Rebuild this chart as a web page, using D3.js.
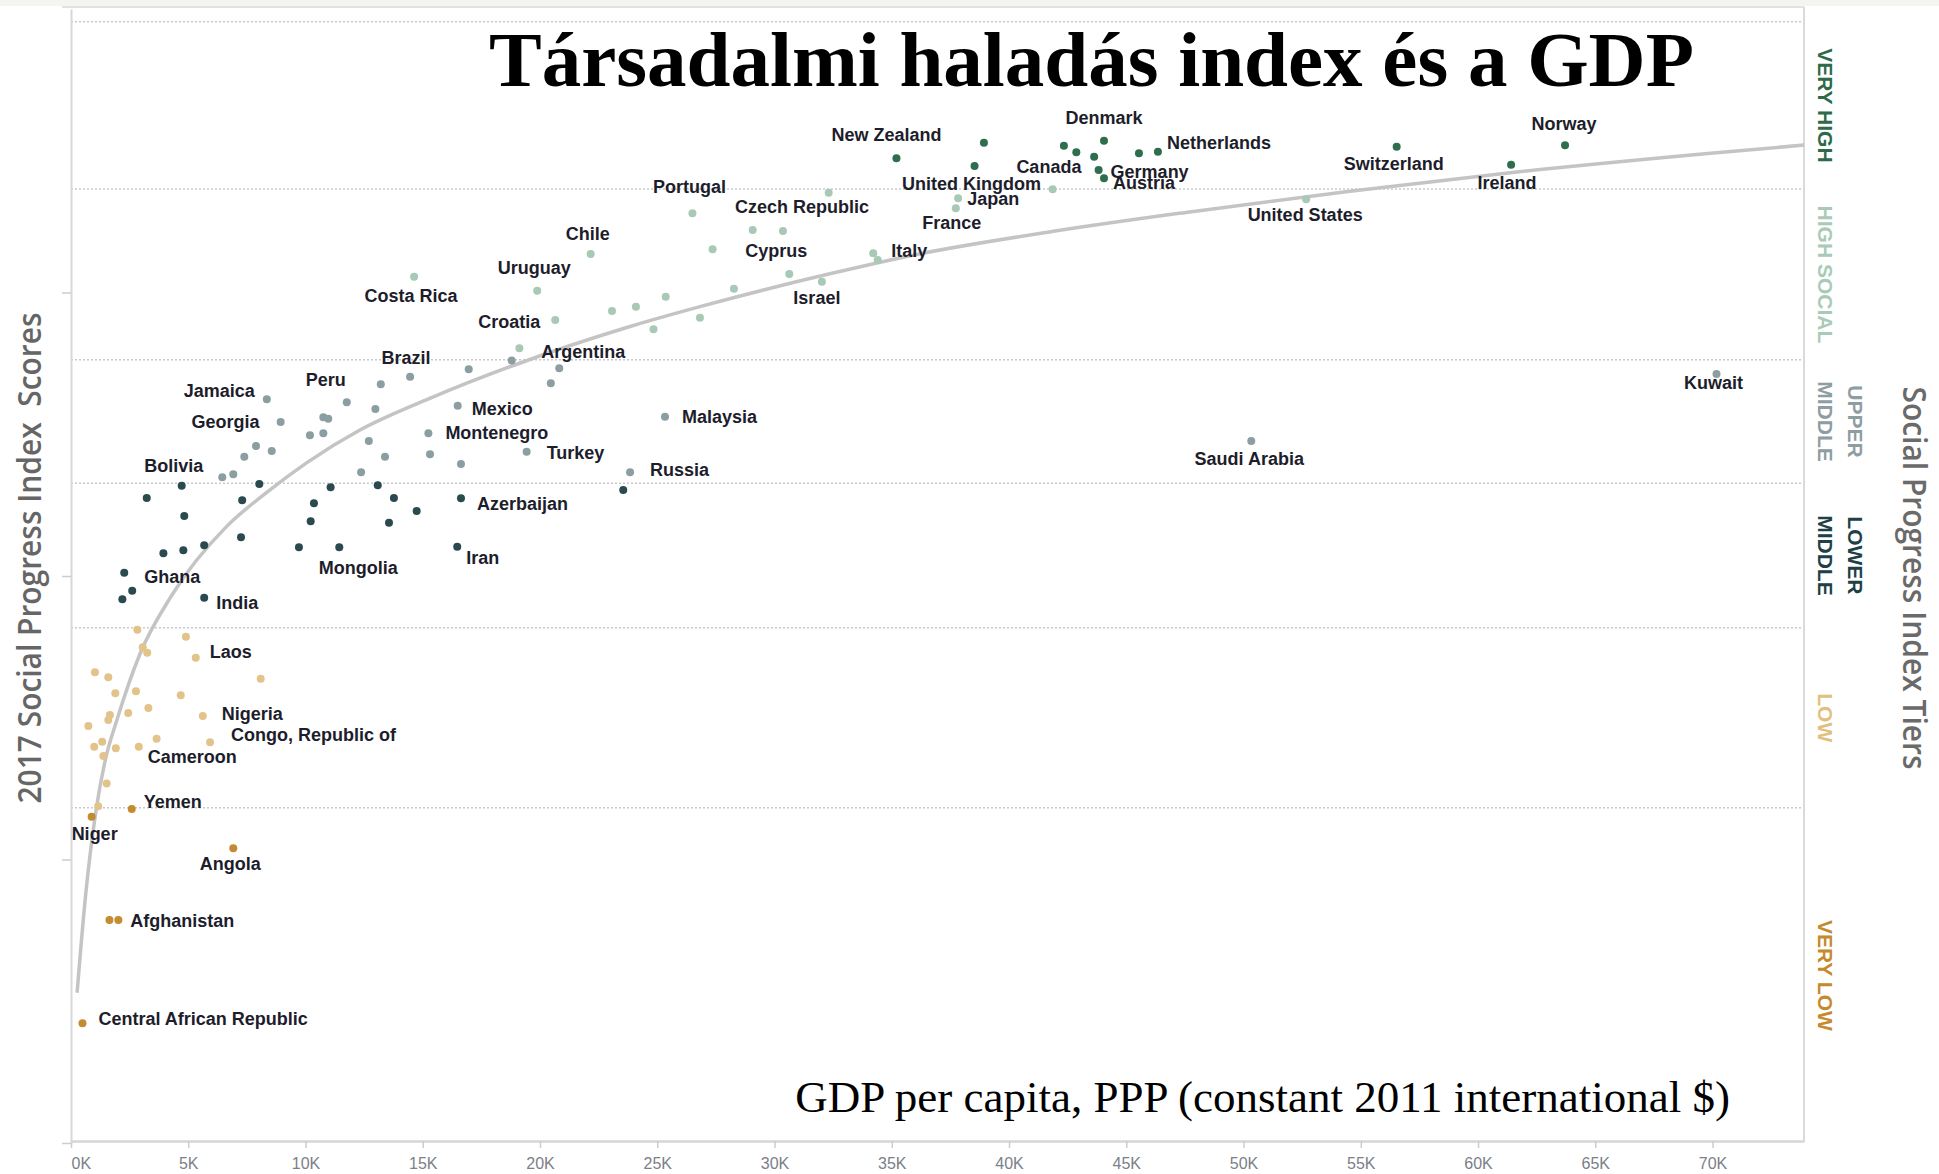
<!DOCTYPE html>
<html>
<head>
<meta charset="utf-8">
<script src="https://cdn.jsdelivr.net/npm/d3@7"></script>
<style>
  html, body { margin: 0; padding: 0; background: #fff; }
  svg { display: block; }
</style>
</head>
<body>
<div id="spi-chart"></div>
<script>
// GDP per capita in thousands of $, SPI score, country label ('' = unlabelled)
var veryHigh = [
  [35.2, 89.47, 'New Zealand'], [38.93, 90.57, ''], [38.53, 88.92, 'United Kingdom'],
  [42.34, 90.36, 'Canada'], [42.87, 89.89, ''], [44.05, 90.71, 'Denmark'],
  [43.63, 89.58, ''], [43.82, 88.64, 'Germany'], [44.05, 88.06, 'Austria'],
  [45.54, 89.82, ''], [46.35, 89.93, 'Netherlands'], [56.53, 90.29, 'Switzerland'],
  [61.41, 89.02, 'Ireland'], [63.71, 90.38, 'Norway']
];
var highSocial = [
  [26.5, 85.59, 'Portugal'], [27.36, 83.05, ''], [25.36, 79.7, ''], [24.84, 77.4, ''],
  [26.82, 78.22, ''], [28.27, 80.27, ''], [29.07, 84.41, ''], [30.36, 84.34, 'Czech Republic'],
  [30.63, 81.31, 'Cyprus'], [32.02, 80.76, 'Israel'], [32.31, 87.04, ''], [34.21, 82.77, 'Italy'],
  [34.4, 82.29, ''], [37.83, 86.65, 'Japan'], [37.73, 85.94, 'France'], [41.86, 87.28, ''],
  [52.67, 86.57, 'United States'], [14.63, 81.11, 'Costa Rica'], [22.16, 82.72, 'Chile'],
  [19.88, 80.13, 'Uruguay'], [20.65, 78.06, 'Croatia'], [23.07, 78.69, ''], [24.09, 79.0, ''],
  [19.12, 76.06, '']
];
var upperMiddle = [
  [8.35, 72.47, 'Jamaica'], [8.94, 70.86, 'Georgia'], [7.89, 69.17, ''], [7.39, 68.42, ''],
  [8.56, 68.82, ''], [6.45, 66.96, ''], [6.92, 67.17, ''], [10.19, 69.93, ''],
  [10.76, 70.07, ''], [10.76, 71.2, ''], [10.97, 71.1, ''], [11.76, 72.25, 'Peru'],
  [13.21, 73.52, ''], [14.46, 74.06, 'Brazil'], [12.98, 71.78, ''], [12.7, 69.52, ''],
  [13.39, 68.42, ''], [12.37, 67.32, ''], [16.96, 74.58, ''], [18.79, 75.2, ''],
  [20.82, 74.65, 'Argentina'], [20.46, 73.59, ''], [16.49, 72.01, 'Mexico'],
  [15.24, 70.07, 'Montenegro'], [15.31, 68.59, ''], [16.63, 67.9, ''], [19.43, 68.77, 'Turkey'],
  [25.33, 71.24, 'Malaysia'], [23.84, 67.32, 'Russia'], [70.17, 74.25, 'Kuwait'],
  [50.33, 69.52, 'Saudi Arabia']
];
var lowerMiddle = [
  [4.72, 66.37, 'Bolivia'], [3.23, 65.5, ''], [4.83, 64.23, ''], [7.3, 65.34, ''],
  [8.03, 66.49, ''], [7.25, 62.73, ''], [5.68, 62.17, ''], [4.79, 61.81, ''],
  [3.94, 61.6, ''], [2.27, 60.23, 'Ghana'], [2.61, 58.96, ''], [2.19, 58.36, ''],
  [5.68, 58.47, 'India'], [11.07, 66.26, ''], [10.36, 65.13, ''], [10.22, 63.86, ''],
  [9.72, 62.02, ''], [11.44, 62.02, 'Mongolia'], [13.08, 66.4, ''], [13.77, 65.5, ''],
  [13.56, 63.76, ''], [14.74, 64.59, ''], [16.63, 65.48, 'Azerbaijan'], [16.47, 62.07, 'Iran'],
  [23.55, 66.07, '']
];
var low = [
  [2.83, 56.2, ''], [4.9, 55.72, ''], [3.06, 54.97, ''], [3.25, 54.59, ''],
  [5.32, 54.24, 'Laos'], [1.02, 53.21, ''], [1.59, 52.85, ''], [8.09, 52.76, ''],
  [1.89, 51.73, ''], [2.77, 51.87, ''], [4.68, 51.58, ''], [3.3, 50.69, ''],
  [2.44, 50.34, ''], [1.66, 50.19, ''], [1.59, 49.84, ''], [0.74, 49.42, ''],
  [5.62, 50.12, 'Nigeria'], [3.65, 48.52, ''], [5.93, 48.27, 'Congo, Republic of'],
  [1.33, 48.31, ''], [0.99, 47.96, ''], [1.91, 47.84, ''], [2.89, 47.96, 'Cameroon'],
  [1.38, 47.3, ''], [1.52, 45.37, ''], [1.16, 43.75, '']
];
var veryLow = [
  [0.88, 43.02, 'Niger'], [2.59, 43.56, 'Yemen'], [6.92, 40.79, 'Angola'],
  [1.64, 35.73, ''], [2.02, 35.73, 'Afghanistan'], [0.49, 28.44, 'Central African Republic']
];

// trend curve
var trendGdp = [0.26, 0.63, 1.07, 1.46, 1.95, 2.94, 4.36, 6.64, 8.35, 10.06, 12.32, 15.4,
  18.86, 23.84, 26.82, 32.31, 36.11, 41.83, 47.54, 54.54, 61.1, 69.8, 73.9];
var trendScore = [30.6, 37.6, 43.5, 47.0, 49.8, 54.5, 58.8, 63.5, 65.9, 68.0, 70.3, 72.6,
  74.85, 77.6, 79.0, 81.3, 82.7, 84.3, 85.65, 87.15, 88.4, 89.8, 90.4];

var tierLines = [['VERY HIGH'], ['HIGH SOCIAL'], ['UPPER', 'MIDDLE'], ['LOWER', 'MIDDLE'], ['LOW'], ['VERY LOW']];
var tierBounds = [99.1, 87.3, 75.25, 66.55, 56.35, 43.65, 20];
var xTicks = [0, 5, 10, 15, 20, 25, 30, 35, 40, 45, 50, 55, 60, 65, 70];
var yTicks = [20, 40, 60, 80];

// label anchor, dx, dy (px from the dot)
var labelPlacement = {
  'New Zealand': ['middle', -10, -17], 'United Kingdom': ['middle', -3, 24],
  'Canada': ['middle', -15, 27], 'Denmark': ['middle', 0, -17],
  'Netherlands': ['start', 9, -3], 'Germany': ['start', 12, 8], 'Austria': ['start', 9, 11],
  'Switzerland': ['middle', -3, 23], 'Ireland': ['middle', -4, 24], 'Norway': ['middle', -1, -15],
  'Portugal': ['middle', -3, -20], 'Czech Republic': ['middle', 19, -18],
  'Cyprus': ['middle', -13, -17], 'Israel': ['middle', -5, 22], 'Italy': ['start', 18, 4],
  'Japan': ['start', 9, 7], 'France': ['middle', -4, 21], 'United States': ['middle', -1, 22],
  'Costa Rica': ['middle', -3, 25], 'Chile': ['middle', -3, -14], 'Uruguay': ['middle', -3, -17],
  'Croatia': ['end', -15, 8], 'Argentina': ['start', -18, -10], 'Peru': ['middle', -21, -16],
  'Brazil': ['middle', -4, -13], 'Jamaica': ['end', -12, -2], 'Georgia': ['end', -21, 6],
  'Bolivia': ['middle', -8, -14], 'Ghana': ['start', 20, 10], 'India': ['start', 12, 11],
  'Mongolia': ['middle', 19, 27], 'Mexico': ['start', 14, 9], 'Montenegro': ['start', 17, 6],
  'Turkey': ['start', 20, 7], 'Malaysia': ['start', 17, 6], 'Russia': ['start', 20, 4],
  'Azerbaijan': ['start', 16, 12], 'Iran': ['start', 9, 17], 'Kuwait': ['middle', -3, 15],
  'Saudi Arabia': ['middle', -2, 24], 'Laos': ['start', 14, 0], 'Nigeria': ['start', 19, 4],
  'Congo, Republic of': ['start', 21, -1], 'Cameroon': ['start', 9, 16], 'Yemen': ['start', 12, -1],
  'Niger': ['middle', 3, 23], 'Angola': ['middle', -3, 22], 'Afghanistan': ['start', 12, 7],
  'Central African Republic': ['start', 16, 2]
};

var pointColors = ['#2e6d4e', '#a8c9b5', '#8b9ea2', '#2a4a4f', '#e2c48b', '#c48b30'];
var tierColors = ['#2f6a48', '#a9cab6', '#8d9da1', '#203f46', '#e1c07f', '#c48a2c'];

var w = 1939,
  h = 1174;

var svg = d3.select('#spi-chart')
  .append('svg')
  .attr('width', w)
  .attr('height', h);

var xscale = d3.scaleLinear().domain([0, 73.9]).range([71, 1804]);
var yscale = d3.scaleLinear().domain([20, 100]).range([1143, 9]);
var plotRight = xscale.range()[1];

// top strip of the frame
svg.append('rect').attr('x', 0).attr('y', 0).attr('width', w).attr('height', 6).attr('fill', '#f6f4f0');
svg.append('line').attr('x1', 62).attr('x2', plotRight).attr('y1', 7).attr('y2', 7)
  .attr('stroke', '#e2e2e2').attr('stroke-width', 2);

// tier boundaries
svg.append('g').attr('class', 'grid')
  .selectAll('line').data(tierBounds.slice(0, -1)).enter().append('line')
  .attr('x1', xscale(0))
  .attr('x2', plotRight)
  .attr('y1', function(d) { return yscale(d); })
  .attr('y2', function(d) { return yscale(d); })
  .attr('stroke', '#c9c9c9')
  .attr('stroke-width', 1.5)
  .attr('stroke-dasharray', '2,2');

// axes
var xaxis = d3.axisBottom(xscale)
  .tickValues(xTicks)
  .tickFormat(function(d) { return d + 'K'; })
  .tickSize(7)
  .tickSizeOuter(0)
  .tickPadding(10);
var gx = svg.append('g').attr('class', 'axis x').attr('transform', 'translate(0,1141)').call(xaxis);
gx.select('.domain').attr('stroke', '#d6d6d6').attr('stroke-width', 2.5);
gx.selectAll('.tick line').attr('stroke', '#cdcdcd').attr('stroke-width', 1.5);
gx.selectAll('.tick text')
  .attr('fill', '#7b8089')
  .style('font-family', '"Liberation Sans", Arial, sans-serif')
  .style('font-size', '16px')
  .attr('text-anchor', function(d) { return d === 0 ? 'start' : 'middle'; })
  .attr('x', function(d) { return d === 0 ? 0 : null; });

var yaxis = d3.axisLeft(yscale).tickValues(yTicks).tickSize(9).tickSizeOuter(0).tickFormat('');
var gy = svg.append('g').attr('class', 'axis y').attr('transform', 'translate(71,0)').call(yaxis);
gy.select('.domain').attr('stroke', '#d8d8d8').attr('stroke-width', 2);
gy.selectAll('.tick line').attr('stroke', '#cdcdcd').attr('stroke-width', 1.5);

// right frame line
svg.append('line').attr('x1', plotRight).attr('x2', plotRight).attr('y1', 7).attr('y2', 1142)
  .attr('stroke', '#dadada').attr('stroke-width', 2);

// trend line
var trendLine = d3.line()
  .x(function(d) { return xscale(d[0]); })
  .y(function(d) { return yscale(d[1]); })
  .curve(d3.curveMonotoneX);
svg.append('path')
  .datum(d3.zip(trendGdp, trendScore))
  .attr('d', trendLine)
  .attr('fill', 'none')
  .attr('stroke', '#c4c4c4')
  .attr('stroke-width', 3.5);

// points
var tiers = [veryHigh, highSocial, upperMiddle, lowerMiddle, low, veryLow];
tiers.forEach(function(rows, i) {
  svg.append('g').attr('class', 'tier' + i)
    .attr('fill', pointColors[i])
    .selectAll('circle').data(rows).enter().append('circle')
    .attr('cx', function(d) { return xscale(d[0]); })
    .attr('cy', function(d) { return yscale(d[1]); })
    .attr('r', 4);
});

// country labels
var labelled = d3.merge(tiers).filter(function(d) { return d[2] !== ''; });
svg.append('g').attr('class', 'labels')
  .selectAll('text').data(labelled).enter().append('text')
  .attr('x', function(d) { return xscale(d[0]) + labelPlacement[d[2]][1]; })
  .attr('y', function(d) { return yscale(d[1]) + labelPlacement[d[2]][2]; })
  .attr('text-anchor', function(d) { return labelPlacement[d[2]][0]; })
  .attr('fill', '#1d1d2b')
  .style('font-family', '"Liberation Sans", Arial, sans-serif')
  .style('font-weight', 'bold')
  .style('font-size', '18px')
  .text(function(d) { return d[2]; });

// tier names on the right
tierLines.forEach(function(lines, i) {
  var cy = yscale((tierBounds[i] + tierBounds[i + 1]) / 2);
  lines.forEach(function(line, j) {
    svg.append('text')
      .attr('transform', 'translate(' + (1825 + (lines.length - 1 - j) * 30) + ',' + cy + ') rotate(90)')
      .attr('text-anchor', 'middle')
      .attr('dy', '0.35em')
      .attr('fill', tierColors[i])
      .style('font-family', '"Liberation Sans", Arial, sans-serif')
      .style('font-weight', 'bold')
      .style('font-size', '21px')
      .text(line);
  });
});

// titles
svg.append('text')
  .attr('x', 489).attr('y', 86)
  .attr('fill', '#000')
  .style('font-family', '"Liberation Serif", "Times New Roman", serif')
  .style('font-weight', 'bold')
  .style('font-size', '79px')
  .text('Társadalmi haladás index és a GDP');

svg.append('text')
  .attr('x', 1730).attr('y', 1112)
  .attr('text-anchor', 'end')
  .attr('fill', '#000')
  .style('font-family', '"Liberation Serif", "Times New Roman", serif')
  .style('font-size', '45px')
  .text('GDP per capita, PPP (constant 2011 international $)');

svg.append('text')
  .attr('transform', 'translate(29,558) rotate(-90)')
  .attr('text-anchor', 'middle')
  .attr('dy', '0.35em')
  .attr('textLength', 491)
  .attr('lengthAdjust', 'spacingAndGlyphs')
  .attr('fill', '#666')
  .style('font-family', '"Open Sans", sans-serif')
  .style('font-weight', 600)
  .style('font-size', '33px')
  .style('white-space', 'pre')
  .text('2017 Social Progress Index  Scores');

svg.append('text')
  .attr('transform', 'translate(1915,578) rotate(90)')
  .attr('text-anchor', 'middle')
  .attr('dy', '0.35em')
  .attr('textLength', 383)
  .attr('lengthAdjust', 'spacingAndGlyphs')
  .attr('fill', '#6a6a6a')
  .style('font-family', '"Open Sans", sans-serif')
  .style('font-weight', 600)
  .style('font-size', '33px')
  .text('Social Progress Index Tiers');
</script>
</body>
</html>
